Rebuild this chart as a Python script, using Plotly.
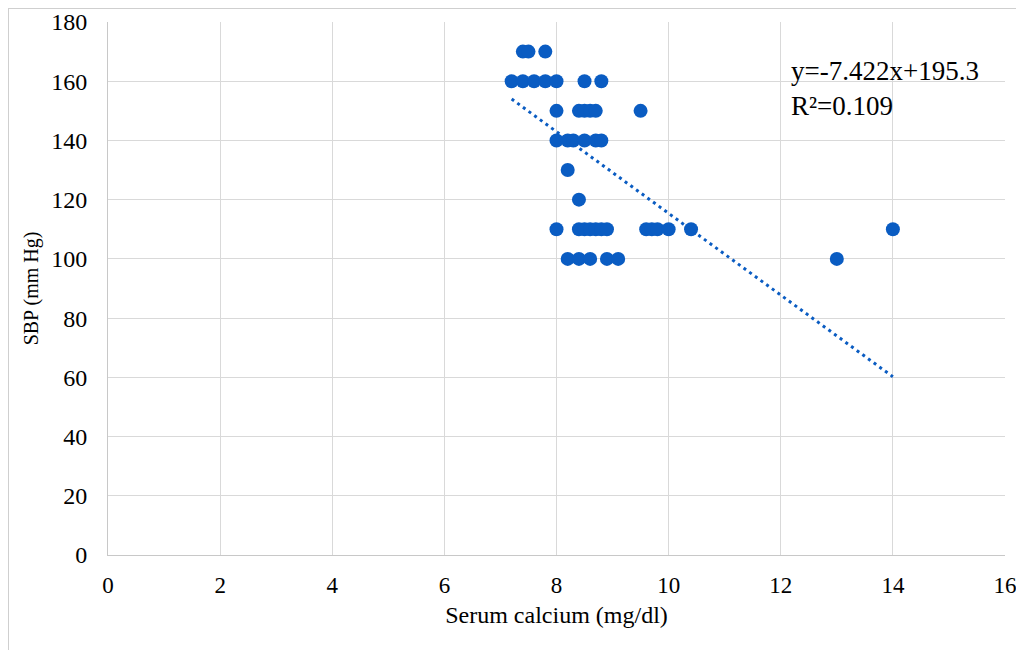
import plotly.graph_objects as go

# Data
serum_calcium = [7.4, 7.5, 7.8,
                 7.2, 7.4, 7.6, 7.8, 8.0, 8.5, 8.8,
                 8.0, 8.4, 8.5, 8.6, 8.7, 9.5,
                 8.0, 8.2, 8.3, 8.5, 8.7, 8.8,
                 8.2,
                 8.4,
                 8.0, 8.4, 8.5, 8.6, 8.7, 8.8, 8.9, 9.6, 9.7, 9.8, 10.0, 10.4, 14.0,
                 8.2, 8.4, 8.6, 8.9, 9.1, 13.0]
sbp = [170, 170, 170,
       160, 160, 160, 160, 160, 160, 160,
       150, 150, 150, 150, 150, 150,
       140, 140, 140, 140, 140, 140,
       130,
       120,
       110, 110, 110, 110, 110, 110, 110, 110, 110, 110, 110, 110, 110,
       100, 100, 100, 100, 100, 100]

trend_x = [7.2, 14.0]
trend_y = [154.0, 60.2]

x_ticks = [0, 2, 4, 6, 8, 10, 12, 14, 16]
y_ticks = [0, 20, 40, 60, 80, 100, 120, 140, 160, 180]

equation_text = "y=-7.422x+195.3<br>R²=0.109"

BLUE = "#0a5cc2"
FONT = "Liberation Serif"

fig = go.Figure()
fig.add_trace(go.Scatter(
    x=serum_calcium, y=sbp, mode="markers",
    marker=dict(size=14, color=BLUE),
    showlegend=False, hoverinfo="x+y",
))
fig.add_trace(go.Scatter(
    x=trend_x, y=trend_y, mode="lines",
    line=dict(color=BLUE, width=3, dash="3px,4px"),
    showlegend=False, hoverinfo="skip",
))

fig.add_annotation(
    x=12.23, y=163, xref="x", yref="y",
    text=equation_text, showarrow=False,
    xanchor="left", yanchor="top", align="left",
    font=dict(family=FONT, size=27, color="#000000"),
    yshift=18, xshift=-5,
)

# Outer light frame (top and left edges visible in the reference)
fig.add_shape(type="line", xref="paper", yref="paper",
              x0=-0.1115, x1=1.05, y0=1.0263, y1=1.0263,
              line=dict(color="#cfcfcf", width=2))
fig.add_shape(type="line", xref="paper", yref="paper",
              x0=-0.1115, x1=-0.1115, y0=1.0263, y1=-0.2,
              line=dict(color="#cfcfcf", width=2))

# the page adds an 8px body margin, so the figure is sized to fit the window
fig.update_layout(
    width=1016, height=642,
    margin=dict(l=100, r=19, t=14, b=95, autoexpand=False),
    paper_bgcolor="white", plot_bgcolor="white",
    font=dict(family=FONT, color="#000000"),
    xaxis=dict(
        range=[0, 16], tickvals=x_ticks, ticktext=[str(v) for v in x_ticks],
        showgrid=True, gridcolor="#d9d9d9", gridwidth=1,
        zeroline=False, showline=True, linecolor="#c8c8c8", linewidth=1,
        ticks="", ticklabelstandoff=9, automargin=False,
        tickfont=dict(family=FONT, size=23),
        title=dict(text="Serum calcium (mg/dl)", font=dict(family=FONT, size=24), standoff=9),
        fixedrange=True,
    ),
    yaxis=dict(
        range=[0, 180], tickvals=y_ticks, ticktext=[str(v) for v in y_ticks],
        showgrid=True, gridcolor="#d9d9d9", gridwidth=1,
        zeroline=False, showline=True, linecolor="#c8c8c8", linewidth=1,
        ticks="", ticklabelstandoff=15, automargin=False,
        tickfont=dict(family=FONT, size=24),
        title=dict(text="SBP (mm Hg)", font=dict(family=FONT, size=20), standoff=7),
        fixedrange=True,
    ),
)

fig.write_html("out.html")
